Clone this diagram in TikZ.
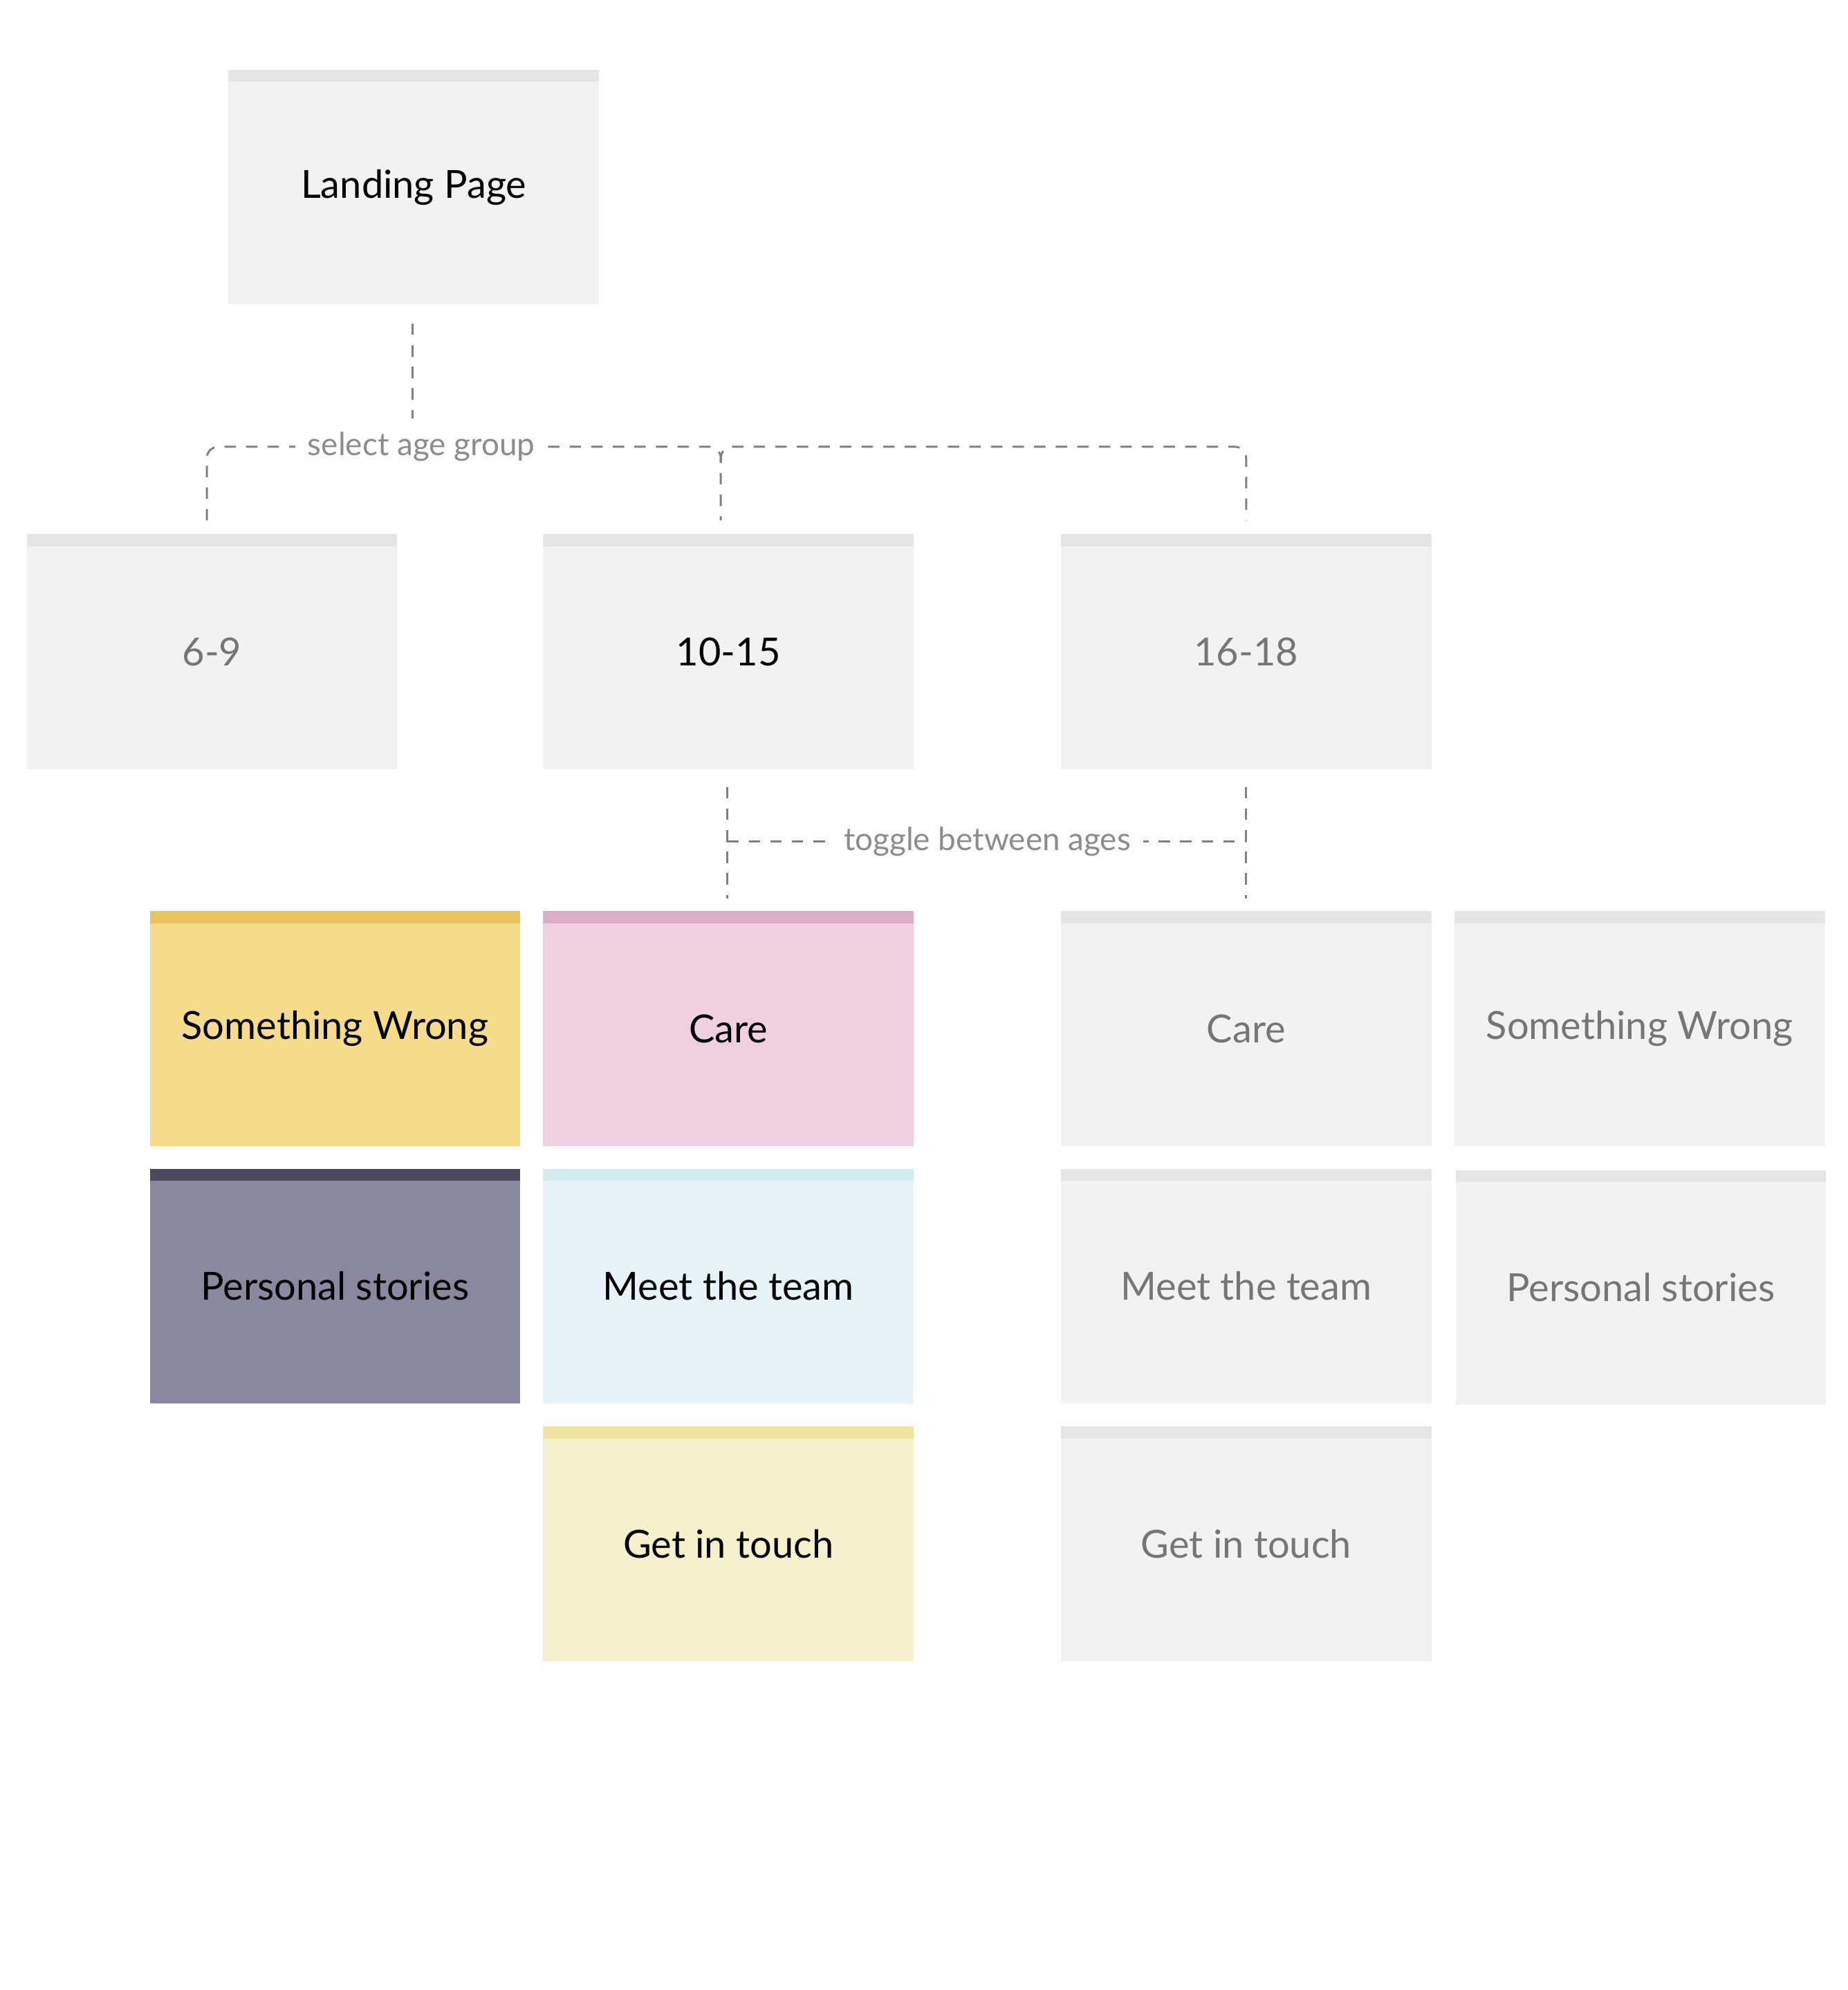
\documentclass[tikz,border=0pt]{standalone}
\usepackage{fontspec}
\setmainfont{Lato}
\definecolor{gfill}{RGB}{242,242,242}
\definecolor{gstrip}{RGB}{229,229,229}
\definecolor{yfill}{RGB}{245,220,141}
\definecolor{ystrip}{RGB}{232,195,94}
\definecolor{pfill}{RGB}{239,208,224}
\definecolor{pstrip}{RGB}{223,173,200}
\definecolor{dfill}{RGB}{136,137,158}
\definecolor{dstrip}{RGB}{78,74,94}
\definecolor{bfill}{RGB}{230,243,248}
\definecolor{bstrip}{RGB}{211,235,239}
\definecolor{lfill}{RGB}{246,240,205}
\definecolor{lstrip}{RGB}{239,228,160}
\definecolor{greytext}{RGB}{118,118,118}
\definecolor{linegrey}{RGB}{128,128,128}
\definecolor{labelgrey}{RGB}{140,140,140}
\begin{document}
\begin{tikzpicture}[x=1pt,y=-1pt,
  card/.style 2 args={anchor=north west, minimum width=292pt, minimum height=185pt,
    inner sep=0pt, outer sep=0pt, fill=#1,
    font=\fontsize{30.5}{36}\selectfont,
    path picture={\fill[#2] (path picture bounding box.north west) rectangle ([yshift=-9.5pt]path picture bounding box.north east);}},
  greycard/.style={card={gfill}{gstrip}, text=greytext},
  conn/.style={draw=linegrey, line width=1.6pt, dash pattern=on 9pt off 8pt},
  lbl/.style={fill=white, text=labelgrey, inner sep=10pt, font=\fontsize{25}{29}\selectfont}]
\useasboundingbox (0,0) rectangle (1456,1568);
\fill[white] (0,0) rectangle (1456,1568);

% cards
\node[card={gfill}{gstrip}] (land) at (180,55) {\raisebox{-2pt}{Landing Page}};
\node[greycard] (a69) at (21,421) {6-9};
\node[card={gfill}{gstrip}] (a1015) at (428,421) {10-15};
\node[greycard] (a1618) at (836,421) {16-18};

\node[card={yfill}{ystrip}] (sw) at (118,718) {Something Wrong};
\node[card={pfill}{pstrip}] (care) at (428,718) {Care};
\node[greycard] (care2) at (836,718) {Care};
\node[greycard] (sw2) at (1146,718) {Something Wrong};

\node[card={dfill}{dstrip}] (ps) at (118,921) {Personal stories};
\node[card={bfill}{bstrip}] (mt) at (428,921) {Meet the team};
\node[greycard] (mt2) at (836,921) {Meet the team};
\node[greycard] (ps2) at (1147,922) {Personal stories};

\node[card={lfill}{lstrip}] (git) at (428,1124) {Get in touch};
\node[greycard] (git2) at (836,1124) {Get in touch};

% levels
\coordinate (hy) at (0,352);
\coordinate (hy2) at (0,663);

% select age group
\draw[conn] ([xshift=-1pt,yshift=-15pt]land.south) -- ([xshift=-1pt]land.south |- 0,330);
\draw[conn, rounded corners=9pt] ([xshift=-4pt,yshift=11pt]a69.north) |- ([xshift=-6pt]a1015.north |- hy) -- ([xshift=-6pt,yshift=11pt]a1015.north);
\draw[conn, rounded corners=9pt] ([xshift=-6pt]a1015.north |- 0,364) |- (a1618.north |- hy) -- ([yshift=11pt]a1618.north);
\node[lbl] (sel) at (332,352) {select age group};

% toggle between ages
\draw[conn] ([xshift=-1pt,yshift=-14pt]a1015.south) -- ([xshift=-1pt,yshift=10pt]care.north);
\draw[conn] ([yshift=-14pt]a1618.south) -- ([yshift=10pt]care2.north);
\draw[conn] ([xshift=-1pt]a1015.south |- hy2) -- (a1618.south |- hy2);
\node[lbl] (tog) at (778,663) {toggle between ages};
\end{tikzpicture}
\end{document}
